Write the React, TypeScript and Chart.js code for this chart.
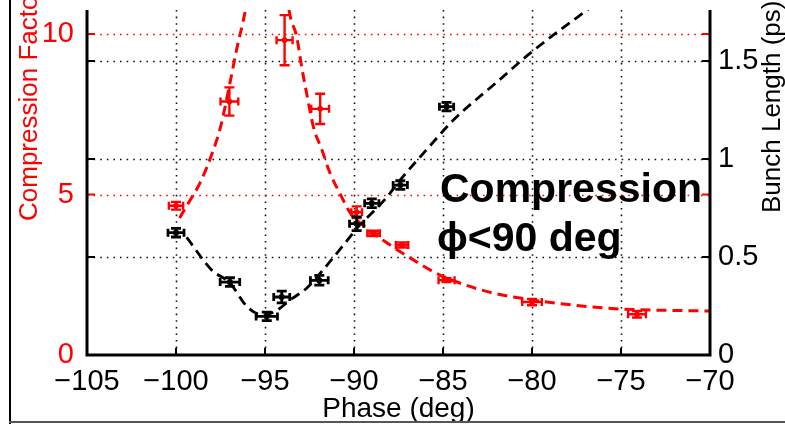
import React, { useEffect, useRef } from 'react';
import { Chart, registerables } from 'chart.js';

Chart.register(...registerables);

// ---- Data ----
const xTicks = [-105, -100, -95, -90, -85, -80, -75, -70];
const leftTicks = [0, 5, 10];
const rightTicks = [0, 0.5, 1, 1.5];

// Measured compression factor (left axis)
const phaseRed = [-100, -97.0, -93.9, -91.9, -89.85, -88.9, -87.3, -84.8, -80, -74.1];
const compression = [4.65, 7.9, 9.81, 7.67, 4.45, 3.79, 3.43, 2.33, 1.65, 1.27];
const compErrY = [0.12, 0.44, 0.78, 0.47, 0.18, 0.08, 0.08, 0.06, 0.1, 0.1];
const compErrX = [0.4, 0.5, 0.45, 0.5, 0.3, 0.35, 0.35, 0.45, 0.55, 0.5];

// Measured bunch length (right axis, ps)
const phaseBlack = [-100, -96.97, -94.9, -94.06, -91.95, -89.85, -89.0, -87.4, -84.8];
const bunch = [0.624, 0.372, 0.197, 0.296, 0.381, 0.67, 0.774, 0.867, 1.267];
const bunchErrY = [0.022, 0.022, 0.022, 0.03, 0.025, 0.035, 0.022, 0.022, 0.022];
const bunchErrX = [0.45, 0.55, 0.6, 0.45, 0.5, 0.4, 0.4, 0.4, 0.4];

// Model curves
const redCurveX = [-99.8, -99.2, -98.65, -97.9, -97.5, -96.97, -96.6, -96.1, -95.6, -94.9, -94.1, -93.6, -93.22, -92.94, -92.66, -92.28, -91.8, -91.35, -90.8, -90.2, -89.4, -88.3, -87.0, -85.2, -82.4, -79.9, -76.7, -74.9, -70];
const redCurveY = [4.27, 4.83, 5.36, 6.39, 7.1, 8.47, 9.5, 10.75, 12.5, 16, 12.5, 10.6, 9.92, 8.98, 8.15, 7.11, 6.39, 5.67, 5.04, 4.42, 4.0, 3.55, 3.08, 2.5, 1.96, 1.71, 1.5, 1.43, 1.37];

const blackCurveX = [-99.4, -98.0, -96.97, -96.0, -95.1, -94.3, -93.6, -92.65, -91.5, -90.6, -89.8, -88.2, -87.4, -85.8, -84.4, -82.0, -80.1, -76.9, -74.0];
const blackCurveY = [0.6, 0.434, 0.367, 0.246, 0.204, 0.23, 0.28, 0.342, 0.46, 0.56, 0.65, 0.8, 0.893, 1.06, 1.2, 1.39, 1.54, 1.76, 1.95];

const X_MIN = -105;
const X_MAX = -70;
const Y_MAX = 10.75;
const Y2_MAX = 1.76;

const FONT = '"Liberation Sans", Arial, Helvetica, sans-serif';
const RED = 'rgb(255,0,0)';

const fmt = (v: number) => String(v).replace('-', '\u2212');

const pts = (xs: number[], ys: number[]) => xs.map((x, i) => ({ x, y: ys[i] }));

const errorSets = [
  { xs: phaseRed, ys: compression, ex: compErrX, ey: compErrY, axis: 'y', color: RED, lw: 2.4 },
  { xs: phaseBlack, ys: bunch, ex: bunchErrX, ey: bunchErrY, axis: 'y2', color: '#000', lw: 2.8 },
];

const decor = {
  id: 'decor',
  beforeDatasetsDraw(chart: any) {
    const { ctx, chartArea: a, scales } = chart;
    const line = (x1: number, y1: number, x2: number, y2: number) => {
      ctx.beginPath();
      ctx.moveTo(x1, y1);
      ctx.lineTo(x2, y2);
      ctx.stroke();
    };
    ctx.save();
    ctx.lineWidth = 1.6;
    ctx.setLineDash([1.6, 5]);
    ctx.strokeStyle = '#111';
    for (const t of xTicks) {
      if (t === X_MIN || t === X_MAX) continue;
      const px = Math.round(scales.x.getPixelForValue(t)) + 0.5;
      line(px, a.top, px, a.bottom);
    }
    for (const t of rightTicks) {
      if (t === 0) continue;
      const py = Math.round(scales.y2.getPixelForValue(t)) + 0.5;
      line(a.left, py, a.right, py);
    }
    ctx.strokeStyle = RED;
    for (const t of leftTicks) {
      if (t === 0) continue;
      const py = Math.round(scales.y.getPixelForValue(t)) + 0.5;
      line(a.left, py, a.right, py);
    }
    ctx.restore();
  },
  afterDatasetsDraw(chart: any) {
    const { ctx, scales } = chart;
    ctx.save();
    ctx.setLineDash([]);
    for (const s of errorSets) {
      ctx.strokeStyle = s.color;
      ctx.lineWidth = s.lw;
      const ys = scales[s.axis];
      s.xs.forEach((xv, i) => {
        const px = scales.x.getPixelForValue(xv);
        const py = ys.getPixelForValue(s.ys[i]);
        const xl = scales.x.getPixelForValue(xv - s.ex[i]);
        const xr = scales.x.getPixelForValue(xv + s.ex[i]);
        const yt = ys.getPixelForValue(s.ys[i] + s.ey[i]);
        const yb = ys.getPixelForValue(s.ys[i] - s.ey[i]);
        ctx.beginPath();
        ctx.moveTo(xl, py); ctx.lineTo(xr, py);
        ctx.moveTo(xl, py - 4); ctx.lineTo(xl, py + 4);
        ctx.moveTo(xr, py - 4); ctx.lineTo(xr, py + 4);
        ctx.moveTo(px, yt); ctx.lineTo(px, yb);
        ctx.moveTo(px - 5, yt); ctx.lineTo(px + 5, yt);
        ctx.moveTo(px - 5, yb); ctx.lineTo(px + 5, yb);
        ctx.stroke();
      });
    }
    ctx.restore();
  },
  afterDraw(chart: any) {
    const { ctx, chartArea: a, scales, width, height } = chart;
    ctx.save();
    ctx.setLineDash([]);
    // inward tick marks
    ctx.lineWidth = 2;
    ctx.strokeStyle = '#000';
    ctx.beginPath();
    for (const t of xTicks) {
      const px = scales.x.getPixelForValue(t);
      ctx.moveTo(px, a.bottom); ctx.lineTo(px, a.bottom - 7);
    }
    for (const t of rightTicks) {
      const py = scales.y2.getPixelForValue(t);
      ctx.moveTo(a.left, py); ctx.lineTo(a.left + 8, py);
      ctx.moveTo(a.right, py); ctx.lineTo(a.right - 8, py);
    }
    ctx.stroke();
    ctx.strokeStyle = RED;
    ctx.beginPath();
    for (const t of leftTicks) {
      if (t === 0) continue;
      const py = scales.y.getPixelForValue(t);
      ctx.moveTo(a.left, py); ctx.lineTo(a.left + 8, py);
      ctx.moveTo(a.right, py); ctx.lineTo(a.right - 8, py);
    }
    ctx.stroke();
    // axis lines
    ctx.strokeStyle = '#000';
    ctx.lineWidth = 3;
    ctx.beginPath();
    ctx.moveTo(a.left, a.top); ctx.lineTo(a.left, a.bottom + 1.5);
    ctx.moveTo(a.left - 1.5, a.bottom); ctx.lineTo(a.right + 1.5, a.bottom);
    ctx.moveTo(a.right, a.top); ctx.lineTo(a.right, a.bottom + 1.5);
    ctx.stroke();
    // figure frame
    ctx.lineWidth = 2;
    ctx.beginPath();
    ctx.moveTo(10, 0); ctx.lineTo(10, height);
    ctx.stroke();
    ctx.strokeStyle = '#555';
    ctx.beginPath();
    ctx.moveTo(9, 422); ctx.lineTo(width, 422);
    ctx.stroke();
    // axis titles
    ctx.textAlign = 'left';
    ctx.textBaseline = 'alphabetic';
    ctx.save();
    ctx.translate(37, 221);
    ctx.rotate(-Math.PI / 2);
    ctx.fillStyle = RED;
    ctx.font = `26px ${FONT}`;
    ctx.fillText('Compression Factor', 0, 0);
    ctx.restore();
    ctx.save();
    ctx.translate(780, 213);
    ctx.rotate(-Math.PI / 2);
    ctx.fillStyle = '#000';
    ctx.font = `26px ${FONT}`;
    ctx.fillText('Bunch Length (ps)', 0, 0);
    ctx.restore();
    // annotation
    ctx.fillStyle = '#000';
    ctx.font = `bold 41px ${FONT}, "DejaVu Sans"`;
    ctx.fillText('Compression', 440, 202);
    ctx.fillText('\u03D5<90 deg', 437, 251);
    ctx.restore();
  },
};

export default function App() {
  const ref = useRef<HTMLCanvasElement>(null);
  useEffect(() => {
    document.body.style.margin = '0';
    const zeroPad = (s: any) => {
      s.paddingTop = 0; s.paddingBottom = 0; s.paddingLeft = 0; s.paddingRight = 0;
    };
    const chart = new Chart(ref.current as HTMLCanvasElement, {
      type: 'scatter',
      data: {
        datasets: [
          {
            data: pts(redCurveX, redCurveY), yAxisID: 'y', showLine: true, pointRadius: 0,
            borderColor: RED, borderWidth: 3, borderDash: [10, 6], cubicInterpolationMode: 'monotone',
          },
          {
            data: pts(blackCurveX, blackCurveY), yAxisID: 'y2', showLine: true, pointRadius: 0,
            borderColor: '#000', borderWidth: 2.8, borderDash: [10, 6], cubicInterpolationMode: 'monotone',
          },
          {
            data: pts(phaseRed, compression), yAxisID: 'y', showLine: false, pointRadius: 2.5,
            pointStyle: 'circle', backgroundColor: RED, borderColor: RED, borderWidth: 1,
          },
          {
            data: pts(phaseBlack, bunch), yAxisID: 'y2', showLine: false, pointRadius: 3,
            pointStyle: 'rect', backgroundColor: '#000', borderColor: '#000', borderWidth: 1,
          },
        ] as any,
      },
      options: {
        animation: false,
        responsive: false,
        events: [],
        layout: { padding: { top: 10, left: 0, right: 0, bottom: 0 } },
        plugins: { legend: { display: false }, tooltip: { enabled: false } },
        scales: {
          x: {
            type: 'linear', position: 'bottom', min: X_MIN, max: X_MAX,
            afterBuildTicks: (s: any) => { s.ticks = xTicks.map((v) => ({ value: v })); },
            afterFit: (s: any) => { s.height = 69; zeroPad(s); },
            grid: { display: false }, border: { display: false },
            ticks: {
              autoSkip: false, maxRotation: 0, minRotation: 0, padding: 2, color: '#000',
              font: { family: FONT, size: 29 }, callback: (v: any) => fmt(Number(v)),
            },
            title: {
              display: true, text: 'Phase (deg)', color: '#000',
              font: { family: FONT, size: 28 }, padding: { top: 0, bottom: -2 },
            },
          },
          y: {
            type: 'linear', position: 'left', min: 0, max: Y_MAX,
            afterBuildTicks: (s: any) => { s.ticks = leftTicks.map((v) => ({ value: v })); },
            afterFit: (s: any) => { s.width = 87; zeroPad(s); },
            grid: { display: false }, border: { display: false },
            ticks: { padding: 5, color: RED, font: { family: FONT, size: 29 }, callback: (v: any) => fmt(Number(v)) },
          },
          y2: {
            type: 'linear', position: 'right', min: 0, max: Y2_MAX,
            afterBuildTicks: (s: any) => { s.ticks = rightTicks.map((v) => ({ value: v })); },
            afterFit: (s: any) => { s.width = 75; zeroPad(s); },
            grid: { display: false }, border: { display: false },
            ticks: { padding: 0, color: '#000', font: { family: FONT, size: 29 }, callback: (v: any) => fmt(Number(v)) },
          },
        },
      } as any,
      plugins: [decor],
    });
    return () => chart.destroy();
  }, []);
  return (
    <div style={{ position: 'relative', width: 785, height: 424, background: '#fff' }}>
      <canvas ref={ref} width={785} height={424} style={{ display: 'block', width: 785, height: 424 }} />
    </div>
  );
}
